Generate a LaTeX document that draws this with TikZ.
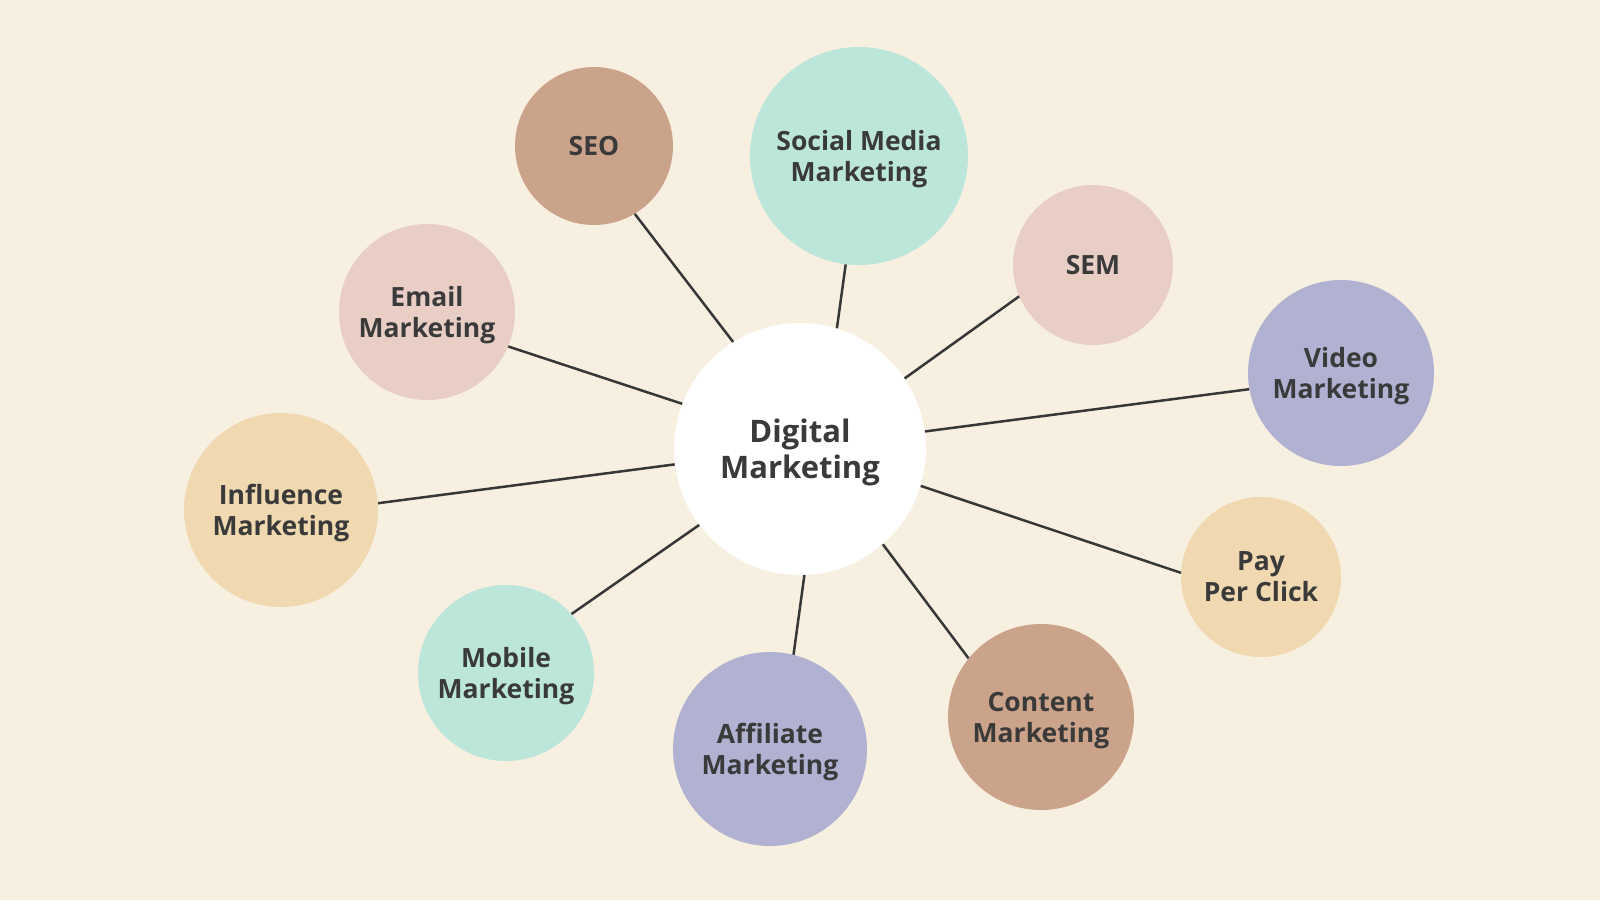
\documentclass[tikz,border=0pt]{standalone}
\usepackage{fontspec}
\setmainfont{Open Sans}
\definecolor{cream}{HTML}{F7F0E1}
\definecolor{clay}{HTML}{CBA28A}
\definecolor{mint}{HTML}{BDE6DB}
\definecolor{blush}{HTML}{E8CEC4}
\definecolor{lilac}{HTML}{B1B2D2}
\definecolor{peach}{HTML}{F0D8B0}
\definecolor{ink}{HTML}{3A3A3A}
\begin{document}
\begin{tikzpicture}[x=1pt,y=-1pt,
	topic/.style={circle,inner sep=0pt,align=center,text=ink,text depth=0pt,
		font=\fontsize{26.5}{31}\selectfont\bfseries},
	link/.style={line width=2.5pt,draw=ink!95!black}]
	\fill[cream] (0,0) rectangle (1600,900);
	\useasboundingbox (0,0) rectangle (1600,900);
	\node[topic,fill=white,minimum size=252pt,font=\fontsize{31}{36}\selectfont\bfseries] (dm) at (800,449) {Digital\\Marketing};
	\node[topic,fill=clay,minimum size=158pt] (seo) at (594,146) {SEO};
	\node[topic,fill=mint,minimum size=218pt] (smm) at (859,156) {Social Media\\Marketing};
	\node[topic,fill=blush,minimum size=160pt] (sem) at (1093,265) {SEM};
	\node[topic,fill=lilac,minimum size=186pt] (video) at (1341,373) {Video\\Marketing};
	\node[topic,fill=peach,minimum size=160pt] (ppc) at (1261,577) {Pay\\Per Click};
	\node[topic,fill=clay,minimum size=186pt] (content) at (1041,717) {Content\\Marketing};
	\node[topic,fill=lilac,minimum size=194pt] (affil) at (770,749) {Affiliate\\Marketing};
	\node[topic,fill=mint,minimum size=176pt] (mobile) at (506,673) {Mobile\\Marketing};
	\node[topic,fill=peach,minimum size=194pt] (influ) at (281,510) {Influence\\Marketing};
	\node[topic,fill=blush,minimum size=176pt] (email) at (427,312) {Email\\Marketing};
	% spokes, border angle on the hub / on the topic
	\foreach \t/\a/\b in {seo/122/-59,smm/73/-97,sem/34/203,video/8/190,ppc/-17/177,
		content/-49/141,affil/-88/76,mobile/217/42,influ/187/4,email/159/-23}
		\draw[link] (dm.\a) -- (\t.\b);
\end{tikzpicture}
\end{document}
